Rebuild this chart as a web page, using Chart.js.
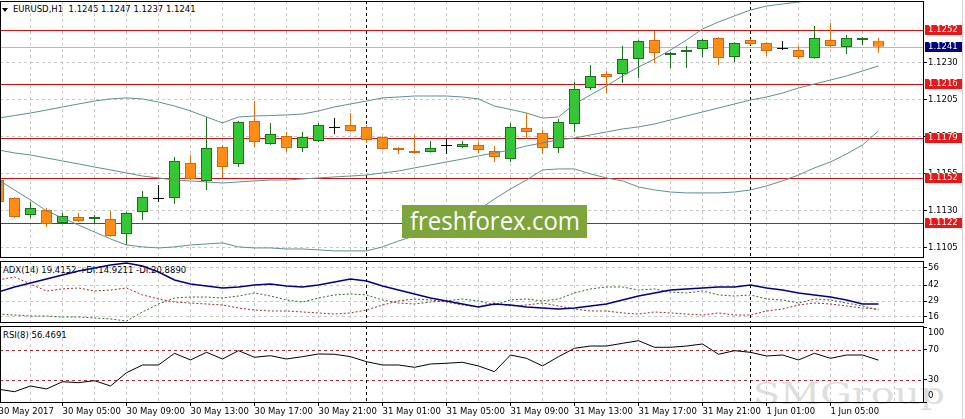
<!DOCTYPE html>
<html>
<head>
<meta charset="utf-8">
<title>EURUSD H1</title>
<script src="https://cdn.jsdelivr.net/npm/chart.js@4.4.1/dist/chart.umd.min.js"></script>
<style>
  html, body { margin: 0; padding: 0; background: #fff; }
  #wrap { position: relative; width: 965px; height: 419px; overflow: hidden; font-family: 'DejaVu Sans', sans-serif; }
  canvas { position: absolute; left: 0; z-index: 2; }
  .lbl { position: absolute; font-size: 8.5px; line-height: 10px; color: #000; white-space: pre; z-index: 1; }
  #tri { position: absolute; left: 2px; top: 8px; width: 0; height: 0; border-left: 3px solid transparent; border-right: 3px solid transparent; border-top: 4px solid #000; z-index: 1; }
  #ff { position: absolute; left: 402px; top: 205px; width: 185px; height: 33px; background: #7ea43c; z-index: 5; overflow: hidden; }
  #ff span { position: absolute; left: 50%; top: 0; color: #fff; font-family: 'Open Sans', sans-serif; font-size: 26px; line-height: 30px; white-space: nowrap; transform-origin: center; }
  #smg { position: absolute; left: 753px; top: 377px; font-family: 'DejaVu Serif', serif; font-size: 30px; line-height: 34px; color: #dedede; z-index: 0; transform-origin: left top; white-space: nowrap; }
  #edge { position: absolute; left: 962px; top: 0; width: 1px; height: 419px; background: #d4d4d4; }
</style>
</head>
<body>
<div id="wrap">
  <div id="smg">SMGroup</div>
  <div id="edge"></div>
  <div id="tri"></div>
  <div class="lbl" id="hMain" style="left:13px;top:4px"></div>
  <div class="lbl" style="left:3px;top:265px">ADX(14) 19.4152 +DI:14.9211 -DI:20.8890</div>
  <div class="lbl" style="left:3px;top:330px">RSI(8) 56.4691</div>
  <canvas id="cMain" width="965" height="260" style="top:0"></canvas>
  <canvas id="cAdx" width="965" height="65" style="top:260px"></canvas>
  <canvas id="cRsi" width="965" height="94" style="top:325px"></canvas>
  <div id="ff"><span>freshforex.com</span></div>
</div>
<script>
// EURUSD H1, 30 May 01:00 .. 1 Jun 08:00
const openP  = [1.11509, 1.11388, 1.11273, 1.11307, 1.11219, 1.11259, 1.11246, 1.11246, 1.11145, 1.11293,
                1.11381, 1.11388, 1.11624, 1.11503, 1.11732, 1.11618, 1.11908, 1.11753, 1.11807, 1.11726,
                1.11773, 1.11861, 1.11881, 1.11868, 1.11800, 1.11726, 1.11705, 1.11699, 1.11739, 1.11732,
                1.11746, 1.11705, 1.11651, 1.11861, 1.11827, 1.11726, 1.11888, 1.12131, 1.12226, 1.12226,
                1.12327, 1.12455, 1.12354, 1.12374, 1.12395, 1.12469, 1.12341, 1.12455, 1.12435, 1.12395,
                1.12388, 1.12334, 1.12455, 1.12408, 1.12455, 1.12450];
const highP  = [1.11516, 1.11395, 1.11361, 1.11320, 1.11286, 1.11286, 1.11273, 1.11300, 1.11293, 1.11435,
                1.11476, 1.11665, 1.11678, 1.11935, 1.11746, 1.11908, 1.12043, 1.11895, 1.11834, 1.11834,
                1.11895, 1.11928, 1.11962, 1.11881, 1.11805, 1.11732, 1.11814, 1.11773, 1.11786, 1.11773,
                1.11766, 1.11739, 1.11895, 1.11962, 1.11847, 1.11922, 1.12172, 1.12286, 1.12246, 1.12415,
                1.12455, 1.12516, 1.12374, 1.12415, 1.12462, 1.12475, 1.12440, 1.12462, 1.12440, 1.12449,
                1.12415, 1.12550, 1.12570, 1.12489, 1.12475, 1.12470];
const lowP   = [1.11347, 1.11253, 1.11253, 1.11192, 1.11212, 1.11225, 1.11212, 1.11125, 1.11070, 1.11239,
                1.11361, 1.11347, 1.11510, 1.11442, 1.11523, 1.11597, 1.11732, 1.11748, 1.11699, 1.11699,
                1.11766, 1.11820, 1.11836, 1.11759, 1.11714, 1.11685, 1.11685, 1.11695, 1.11685, 1.11726,
                1.11692, 1.11631, 1.11631, 1.11786, 1.11685, 1.11692, 1.11834, 1.12118, 1.12097, 1.12165,
                1.12199, 1.12300, 1.12266, 1.12266, 1.12341, 1.12286, 1.12307, 1.12422, 1.12347, 1.12388,
                1.12327, 1.12328, 1.12408, 1.12361, 1.12422, 1.12370];
const closeP = [1.11361, 1.11259, 1.11320, 1.11212, 1.11266, 1.11232, 1.11259, 1.11131, 1.11286, 1.11395,
                1.11381, 1.11638, 1.11516, 1.11726, 1.11597, 1.11901, 1.11766, 1.11820, 1.11726, 1.11800,
                1.11881, 1.11861, 1.11841, 1.11780, 1.11719, 1.11712, 1.11692, 1.11726, 1.11739, 1.11753,
                1.11712, 1.11665, 1.11868, 1.11834, 1.11726, 1.11901, 1.12124, 1.12212, 1.12205, 1.12327,
                1.12449, 1.12368, 1.12368, 1.12388, 1.12455, 1.12334, 1.12435, 1.12428, 1.12381, 1.12395,
                1.12341, 1.12469, 1.12415, 1.12469, 1.12469, 1.12410];

// Bollinger bands
const bbUpper = [1.11928, 1.11945, 1.11962, 1.11982, 1.12003, 1.12023, 1.12043, 1.12057, 1.12064, 1.12057,
                 1.12036, 1.12009, 1.11976, 1.11935, 1.11895, 1.11935, 1.11942, 1.11945, 1.11949, 1.11955,
                 1.11976, 1.12003, 1.12023, 1.12043, 1.12064, 1.12070, 1.12077, 1.12077, 1.12077, 1.12070,
                 1.12057, 1.12009, 1.11986, 1.11962, 1.11928, 1.11935, 1.12023, 1.12084, 1.12145, 1.12212,
                 1.12273, 1.12327, 1.12388, 1.12455, 1.12530, 1.12577, 1.12618, 1.12658, 1.12685, 1.12699,
                 1.12712, 1.12725, 1.12738, 1.12740, 1.12745, 1.12722];
const bbMiddle = [1.11712, 1.11692, 1.11678, 1.11658, 1.11638, 1.11618, 1.11597, 1.11577, 1.11557, 1.11536,
                  1.11523, 1.11509, 1.11503, 1.11496, 1.11489, 1.11496, 1.11503, 1.11509, 1.11509, 1.11516,
                  1.11523, 1.11530, 1.11536, 1.11543, 1.11557, 1.11570, 1.11591, 1.11611, 1.11631, 1.11651,
                  1.11672, 1.11692, 1.11712, 1.11739, 1.11760, 1.11780, 1.11793, 1.11814, 1.11834, 1.11854,
                  1.11868, 1.11888, 1.11915, 1.11942, 1.11969, 1.11996, 1.12023, 1.12050, 1.12070, 1.12097,
                  1.12131, 1.12158, 1.12185, 1.12212, 1.12246, 1.12280];
const bbLower = [1.11509, 1.11442, 1.11374, 1.11300, 1.11253, 1.11205, 1.11158, 1.11111, 1.11070, 1.11057,
                 1.11050, 1.11057, 1.11070, 1.11077, 1.11084, 1.11057, 1.11050, 1.11050, 1.11043, 1.11043,
                 1.11037, 1.11030, 1.11030, 1.11030, 1.11057, 1.11097, 1.11131, 1.11172, 1.11212, 1.11253,
                 1.11307, 1.11381, 1.11449, 1.11509, 1.11577, 1.11584, 1.11584, 1.11550, 1.11523, 1.11503,
                 1.11462, 1.11442, 1.11428, 1.11422, 1.11422, 1.11422, 1.11428, 1.11442, 1.11469, 1.11503,
                 1.11543, 1.11591, 1.11631, 1.11685, 1.11746, 1.11841];

// ADX(14)
const adx = [36.4, 40.5, 43.8, 47.0, 50.3, 53.6, 56.0, 58.4, 60.1, 57.6,
             52.7, 46.2, 42.9, 41.3, 39.7, 40.5, 42.1, 42.9, 41.3, 40.5,
             42.1, 44.6, 47.0, 45.4, 41.3, 38.0, 34.8, 31.5, 29.1, 26.6,
             24.2, 26.6, 25.8, 24.2, 23.3, 22.5, 23.3, 25.0, 26.6, 29.9,
             33.1, 35.6, 38.0, 38.9, 39.7, 40.5, 40.5, 42.1, 39.7, 38.0,
             35.6, 34.0, 32.3, 29.9, 26.6, 26.6];
const plusDI = [18.4, 17.6, 16.8, 16.8, 16.0, 16.0, 15.2, 14.4, 12.7, 20.1,
                26.6, 31.5, 32.3, 32.3, 31.5, 33.1, 35.6, 33.1, 29.9, 28.2,
                31.5, 34.0, 34.8, 34.0, 29.9, 27.4, 26.6, 28.2, 29.1, 30.7,
                29.1, 25.8, 29.9, 30.7, 29.1, 30.7, 35.6, 38.9, 40.5, 40.5,
                38.0, 38.9, 36.4, 35.6, 37.2, 34.0, 33.1, 34.0, 30.7, 29.9,
                27.4, 30.7, 29.9, 27.4, 25.0, 21.7];
const minusDI = [46.2, 48.7, 42.9, 37.2, 38.9, 39.7, 37.2, 38.0, 39.7, 34.0,
                 30.7, 28.2, 27.4, 26.6, 25.8, 23.3, 21.7, 20.9, 20.9, 20.1,
                 19.3, 18.4, 19.3, 21.7, 25.8, 29.1, 30.7, 29.9, 28.2, 25.8,
                 24.2, 27.4, 25.0, 25.8, 27.4, 25.0, 22.5, 20.9, 20.9, 19.3,
                 18.4, 20.1, 19.3, 18.4, 17.6, 19.3, 17.6, 17.6, 20.9, 22.5,
                 25.8, 27.4, 26.6, 25.0, 23.3, 22.5];

// RSI(8)
const rsi = [17.6, 14.4, 22.0, 18.0, 27.7, 26.4, 29.1, 22.0, 39.7, 50.0,
             50.0, 65.6, 56.7, 66.9, 58.0, 69.1, 60.3, 62.4, 58.0, 61.1,
             64.7, 64.3, 61.1, 54.4, 50.0, 50.0, 46.9, 51.3, 52.3, 53.6,
             48.7, 41.1, 63.3, 58.9, 48.7, 61.1, 72.3, 75.3, 75.3, 78.9,
             82.4, 73.6, 73.6, 75.3, 78.0, 64.3, 69.1, 66.9, 62.0, 63.3,
             56.7, 65.6, 58.9, 63.3, 63.3, 56.47];

// axes
const timeLabels = ['30 May 2017', '30 May 05:00', '30 May 09:00', '30 May 13:00', '30 May 17:00',
                    '30 May 21:00', '31 May 01:00', '31 May 05:00', '31 May 09:00', '31 May 13:00',
                    '31 May 17:00', '31 May 21:00', '1 Jun 01:00', '1 Jun 05:00'];
const labelBars = [0, 4, 8, 12, 16, 20, 24, 28, 32, 36, 40, 44, 48, 52];
const gridBars = [0, 2, 4, 6, 8, 10, 12, 14, 16, 18, 20, 22, 24, 26, 28, 30, 32, 34, 36, 38, 40, 42, 44, 46, 48, 50, 52, 54, 56];
const dayBreaks = [23, 47];
const priceTicks = [1.1230, 1.1205, 1.1180, 1.1155, 1.1130, 1.1105];
const levels = [1.1252, 1.1216, 1.1179, 1.1152, 1.1122];
const adxTicks = [56, 42, 29, 16];
const rsiTicks = [100, 70, 30, 0];
const rsiLevels = [70, 30];

// view window: 16 px per bar, first bar slightly cut at the left
const X_MIN = 0.09375, X_MAX = 57.84375;
const FONT = { family: "'DejaVu Sans', sans-serif", size: 8.5 };
const AXIS_W = 41;

const lastBar = openP.length - 1;
document.getElementById('hMain').textContent =
  'EURUSD,H1  ' + [openP[lastBar], highP[lastBar], lowP[lastBar], closeP[lastBar]].map(v => v.toFixed(4)).join(' ');

function xScale(showLabels) {
  return {
    type: 'linear', min: X_MIN, max: X_MAX, offset: false,
    afterBuildTicks: s => { s.ticks = gridBars.map(v => ({ value: v })); },
    afterFit: s => { s.height = showLabels ? 16 : 0; s.paddingLeft = 0; s.paddingRight = 0; },
    grid: {
      color: '#c8c8c8', offset: false, drawTicks: showLabels, tickLength: 3,
      tickColor: c => (c.tick && labelBars.includes(c.tick.value)) ? '#000' : 'rgba(0,0,0,0)'
    },
    border: { display: false, dash: [3, 3] },
    ticks: {
      display: showLabels, autoSkip: false, maxRotation: 0, minRotation: 0, align: 'start',
      padding: 1, color: '#000', font: FONT,
      callback: v => { const k = labelBars.indexOf(v); return k >= 0 ? timeLabels[k] : ''; }
    }
  };
}

function yScale(min, max, tickVals, fmt, showGrid) {
  return {
    type: 'linear', position: 'right', min, max, beginAtZero: false,
    afterBuildTicks: s => { s.ticks = tickVals.map(v => ({ value: v })); },
    afterFit: s => { s.width = AXIS_W; s.paddingTop = 0; s.paddingBottom = 0; },
    grid: { color: showGrid ? '#c8c8c8' : 'rgba(0,0,0,0)', tickLength: 3, tickColor: '#000' },
    border: { display: false, dash: [3, 3] },
    ticks: { autoSkip: false, padding: 1, color: '#000', font: FONT, callback: fmt }
  };
}

// frame, day breaks, level lines, axis boxes
function panelPlugin(opt) {
  return {
    id: 'panel',
    beforeDatasetsDraw(chart) {
      const { ctx, chartArea: a, scales: { x, y } } = chart;
      ctx.save();
      ctx.beginPath(); ctx.rect(a.left, a.top, a.width, a.height); ctx.clip();
      (opt.lines || []).forEach(l => {
        const py = Math.round(y.getPixelForValue(l.value)) + 0.5;
        ctx.strokeStyle = l.color; ctx.lineWidth = 1; ctx.setLineDash(l.dash || []);
        ctx.beginPath(); ctx.moveTo(a.left, py); ctx.lineTo(a.right, py); ctx.stroke();
      });
      ctx.strokeStyle = '#000'; ctx.lineWidth = 1; ctx.setLineDash([3, 3]);
      dayBreaks.forEach(b => {
        const px = x.getPixelForValue(b);
        ctx.beginPath(); ctx.moveTo(px, a.top); ctx.lineTo(px, a.bottom); ctx.stroke();
      });
      ctx.restore();
    },
    afterDatasetsDraw(chart) {
      const { ctx, chartArea: a } = chart;
      ctx.save();
      ctx.strokeStyle = '#000'; ctx.lineWidth = 1;
      ctx.strokeRect(a.left + 0.5, a.top + 0.5, a.width - 1, a.height - 1);
      ctx.restore();
    },
    afterDraw(chart) {
      const { ctx, chartArea: a, scales: { y } } = chart;
      ctx.save();
      ctx.font = "8.5px 'DejaVu Sans', sans-serif";
      ctx.textBaseline = 'middle';
      (opt.boxes || []).forEach(b => {
        const py = Math.round(y.getPixelForValue(b.value));
        ctx.fillStyle = b.bg;
        ctx.fillRect(a.right + 1, py - 5, 37, 10);
        ctx.fillStyle = '#fff';
        ctx.fillText(b.value.toFixed(4), a.right + 4, py);
      });
      (opt.edgeLabels || []).forEach(v => {
        let py = y.getPixelForValue(v);
        py = Math.min(Math.max(py, a.top + 7), a.bottom - 7);
        ctx.fillStyle = '#000';
        ctx.fillText(String(v), a.right + 4, py);
      });
      ctx.restore();
    }
  };
}

const common = {
  responsive: false, maintainAspectRatio: false, animation: false, devicePixelRatio: 1, events: [],
  plugins: { legend: { display: false }, tooltip: { enabled: false } }
};

// ---------- main price panel ----------
const idx = openP.map((_, i) => i);
const kind = openP.map((o, i) => closeP[i] > o ? 'up' : (closeP[i] < o ? 'down' : 'doji'));
const bodyFill = { up: '#33c833', down: '#ff8c16', doji: '#000' };
const bodyLine = { up: '#1d6f1d', down: '#d8660a', doji: '#000' };
const wickCol = { up: '#1d6f1d', down: '#e07010', doji: '#000' };
const bbStyle = { type: 'line', borderColor: '#5e9090', borderWidth: 1, pointRadius: 0, tension: 0, order: 1 };

new Chart(document.getElementById('cMain'), {
  type: 'bar',
  data: {
    datasets: [
      { label: 'wick', data: idx.map(i => ({ x: i, y: [lowP[i], highP[i]] })),
        backgroundColor: kind.map(k => wickCol[k]), borderWidth: 0, barThickness: 1,
        grouped: false, inflateAmount: 0, order: 3 },
      { label: 'body', data: idx.map(i => ({ x: i, y: [openP[i], closeP[i]] })),
        backgroundColor: kind.map(k => bodyFill[k]), borderColor: kind.map(k => bodyLine[k]),
        borderWidth: kind.map(k => k === 'doji' ? 0 : 1), borderSkipped: false,
        barThickness: 11, minBarLength: 1, grouped: false, inflateAmount: 0, order: 2 },
      Object.assign({ label: 'BB upper', data: idx.map(i => ({ x: i, y: bbUpper[i] })) }, bbStyle),
      Object.assign({ label: 'BB middle', data: idx.map(i => ({ x: i, y: bbMiddle[i] })) }, bbStyle),
      Object.assign({ label: 'BB lower', data: idx.map(i => ({ x: i, y: bbLower[i] })) }, bbStyle)
    ]
  },
  options: Object.assign({}, common, {
    layout: { padding: { top: 1, bottom: 2, left: 0, right: 0 } },
    scales: {
      x: xScale(false),
      y: yScale(1.10982, 1.12719, priceTicks, v => v.toFixed(4), true)
    }
  }),
  plugins: [panelPlugin({
    lines: levels.map(v => ({ value: v, color: '#c81414' })).concat([{ value: closeP[lastBar], color: '#b8b8b8' }]),
    boxes: levels.map(v => ({ value: v, bg: '#e41a1a' })).concat([{ value: closeP[lastBar], bg: '#000080' }])
  })]
});

// ---------- ADX panel ----------
new Chart(document.getElementById('cAdx'), {
  type: 'line',
  data: {
    datasets: [
      { label: '+DI', data: idx.map(i => ({ x: i, y: plusDI[i] })), borderColor: '#2f6b2f', borderWidth: 1,
        borderDash: [2, 2], pointRadius: 0, tension: 0, order: 3 },
      { label: '-DI', data: idx.map(i => ({ x: i, y: minusDI[i] })), borderColor: '#9a2e2e', borderWidth: 1,
        borderDash: [2, 2], pointRadius: 0, tension: 0, order: 2 },
      { label: 'ADX', data: idx.map(i => ({ x: i, y: adx[i] })), borderColor: '#000080', borderWidth: 1.5,
        pointRadius: 0, tension: 0, order: 1 }
    ]
  },
  options: Object.assign({}, common, {
    layout: { padding: { top: 1, bottom: 2, left: 0, right: 0 } },
    scales: {
      x: xScale(false),
      y: yScale(11.1, 61.7, adxTicks, v => String(v), true)
    }
  }),
  plugins: [panelPlugin({})]
});

// ---------- RSI panel ----------
new Chart(document.getElementById('cRsi'), {
  type: 'line',
  data: {
    datasets: [
      { label: 'RSI', data: idx.map(i => ({ x: i, y: rsi[i] })), borderColor: '#000', borderWidth: 1,
        pointRadius: 0, tension: 0 }
    ]
  },
  options: Object.assign({}, common, {
    layout: { padding: { top: 1, bottom: 0, left: 0, right: 0 } },
    scales: {
      x: xScale(true),
      y: yScale(-0.7, 102, rsiTicks, v => (v === 100 || v === 0) ? '' : String(v), false)
    }
  }),
  plugins: [panelPlugin({
    lines: rsiLevels.map(v => ({ value: v, color: '#a03030', dash: [3, 3] })),
    edgeLabels: [100, 0]
  })]
});

// watermark widths
const ffs = document.querySelector('#ff span');
const ffw = ffs.getBoundingClientRect().width;
ffs.style.transform = 'translateX(-50%) scaleX(' + (170 / ffw) + ')';
const smg = document.getElementById('smg');
smg.style.transform = 'scaleX(' + (192 / smg.getBoundingClientRect().width) + ')';
</script>
</body>
</html>
